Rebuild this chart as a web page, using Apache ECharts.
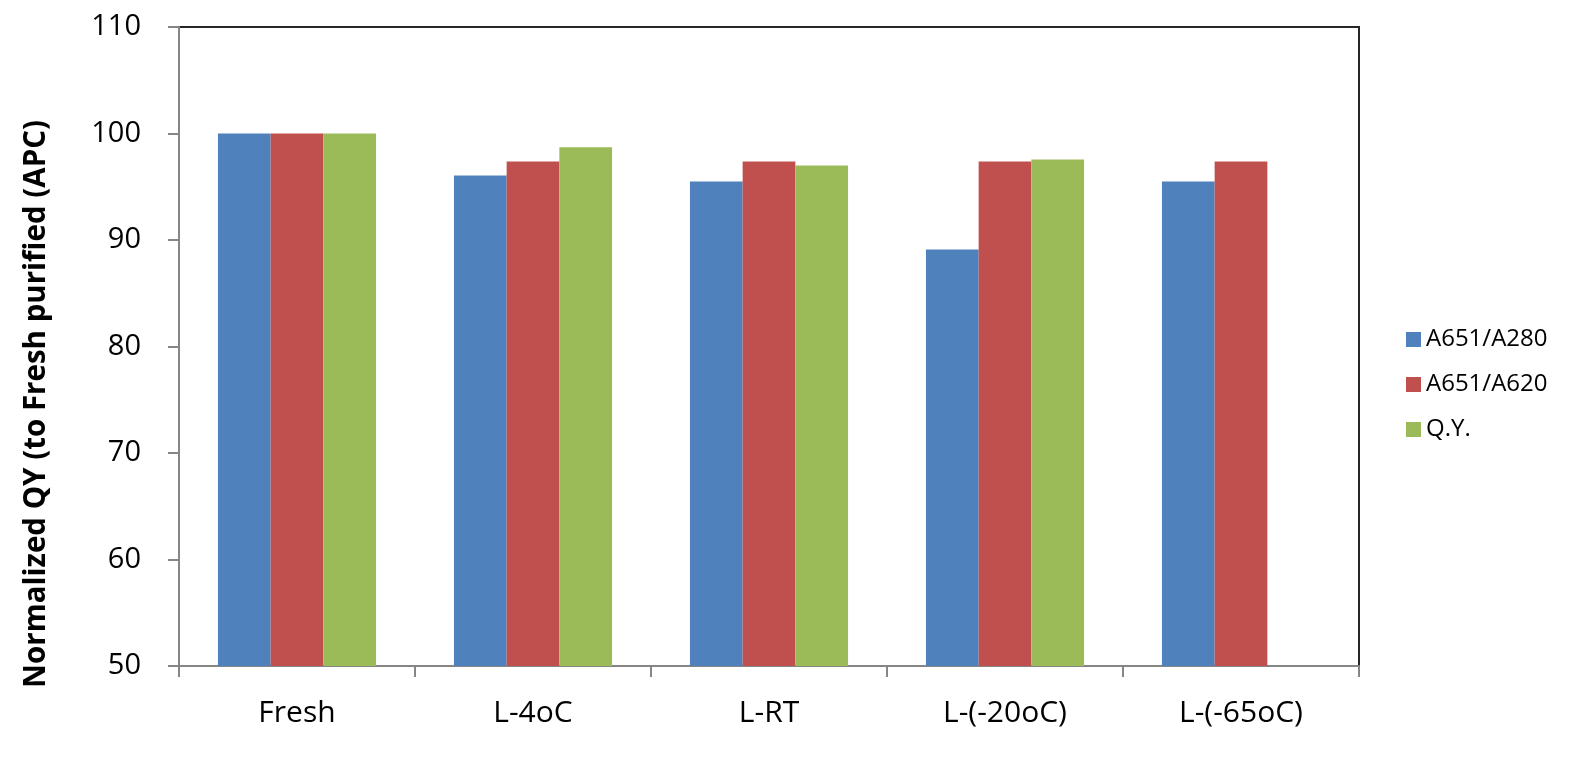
<!DOCTYPE html>
<html><head><meta charset="utf-8">
<script src="https://cdn.jsdelivr.net/npm/echarts@6/dist/echarts.min.js"></script>
<style>html,body{margin:0;padding:0;background:#fff}#c{width:1589px;height:762px}</style>
</head><body><div id="c"></div>
<script>
const categories = ['Fresh', 'L-4oC', 'L-RT', 'L-(-20oC)', 'L-(-65oC)'];
const a651a280 = [100, 96.05, 95.5, 89.1, 95.5];
const a651a620 = [100, 97.38, 97.38, 97.38, 97.38];
const qy = [100, 98.7, 97.0, 97.55, null];
const seriesNames = ['A651/A280', 'A651/A620', 'Q.Y.'];
const yTitle = 'Normalized QY (to Fresh purified (APC)';

const font = '"Open Sans", "Noto Sans", sans-serif';
const chart = echarts.init(document.getElementById('c'));
const colors = ['#4F81BD', '#C0504D', '#9BBB59'];
const data = [a651a280, a651a620, qy];
chart.setOption({
  animation: false,
  grid: { left: 179, right: 230, top: 27, bottom: 96, show: true, borderColor: '#262626', borderWidth: 2, backgroundColor: 'transparent' },
  graphic: [{
    type: 'text', x: 37, y: 404, rotation: Math.PI / 2,
    style: { text: yTitle, font: 'bold 29.5px ' + font, fill: '#000', align: 'center', verticalAlign: 'middle' }
  }],
  legend: {
    orient: 'vertical', left: 1401, top: 322, itemWidth: 15, itemHeight: 15, itemGap: 20,
    icon: 'rect',
    textStyle: { fontFamily: font, fontSize: 24, lineHeight: 25, color: '#000' },
    data: seriesNames
  },
  xAxis: {
    type: 'category', data: categories,
    axisLine: { lineStyle: { color: '#868686', width: 2 } },
    axisTick: { show: true, length: 11, lineStyle: { color: '#868686', width: 2 } },
    axisLabel: { fontFamily: font, fontSize: 30, color: '#000', margin: 32 }
  },
  yAxis: {
    type: 'value', min: 50, max: 110, interval: 10,
    splitLine: { show: false },
    axisLine: { show: true, lineStyle: { color: '#868686', width: 2 } },
    axisTick: { show: true, length: 11, lineStyle: { color: '#868686', width: 2 } },
    axisLabel: { fontFamily: font, fontSize: 29, color: '#000', margin: 38 }
  },
  series: seriesNames.map((n, i) => ({
    name: n, type: 'bar', data: data[i], barGap: '0%', barCategoryGap: '33%',
    itemStyle: { color: colors[i] }
  }))
});
</script></body></html>
